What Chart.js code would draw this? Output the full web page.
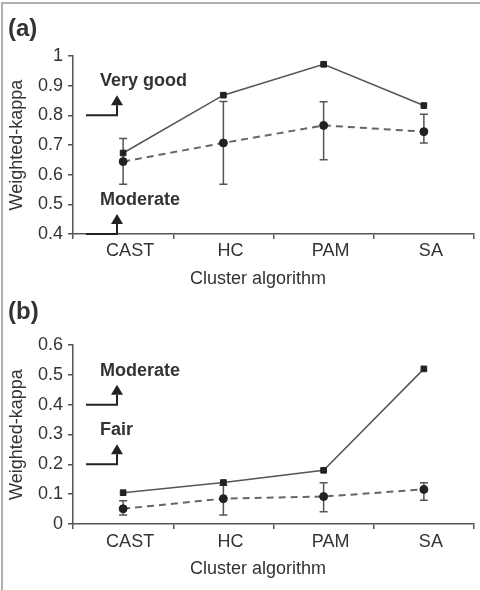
<!DOCTYPE html>
<html>
<head>
<meta charset="utf-8">
<script src="https://cdn.jsdelivr.net/npm/chart.js@4.4.1/dist/chart.umd.min.js"></script>
<style>
  html, body { margin: 0; padding: 0; background: #fff; }
  body { width: 480px; height: 590px; position: relative; overflow: hidden; }
  #marco { position: absolute; left: 1px; top: 2px; right: 0; bottom: 0; border-top: 2px solid #b0b0b0; border-left: 2px solid #b0b0b0; }
  canvas { position: absolute; left: 0; }
  #graficoA { top: 0; }
  #graficoB { top: 295px; }
</style>
</head>
<body>
<div id="marco"></div>
<canvas id="graficoA" width="480" height="295"></canvas>
<canvas id="graficoB" width="480" height="295"></canvas>
<script>
// categorias y valores
const categorias = ['CAST', 'HC', 'PAM', 'SA']

// (a)
const maximoA = [0.673, 0.868, 0.972, 0.833]
const mediaA = [0.644, 0.707, 0.766, 0.745]
const errorBajoA = [0.568, 0.568, 0.650, 0.707]
const errorAltoA = [0.722, 0.847, 0.846, 0.804]
const ejeA = [0.4, 1, 0.1]
const umbralesA = [[0.8, 'Very good'], [0.4, 'Moderate']]

// (b)
const maximoB = [0.105, 0.139, 0.180, 0.520]
const mediaB = [0.051, 0.085, 0.092, 0.116]
const errorBajoB = [0.030, 0.030, 0.041, 0.080]
const errorAltoB = [0.078, 0.130, 0.138, 0.138]
const ejeB = [0, 0.6, 0.1]
const umbralesB = [[0.4, 'Moderate'], [0.2, 'Fair']]

const tituloX = 'Cluster algorithm'
const tituloY = 'Weighted-kappa'

Chart.defaults.font.family = '"Liberation Sans", Arial, sans-serif'
Chart.defaults.font.size = 18
Chart.defaults.color = '#333'

// barras de error (low/high) dibujadas con las escalas del grafico
const barrasError = {
  id: 'barrasError',
  beforeDatasetsDraw(chart, args, opts) {
    const { ctx, scales: { x, y } } = chart
    ctx.save()
    ctx.strokeStyle = '#555'
    ctx.lineWidth = 1.5
    opts.bajo.forEach((v, i) => {
      const px = x.getPixelForValue(i)
      const y1 = y.getPixelForValue(v)
      const y2 = y.getPixelForValue(opts.alto[i])
      ctx.beginPath()
      ctx.moveTo(px, y1); ctx.lineTo(px, y2)
      ctx.moveTo(px - 4, y1); ctx.lineTo(px + 4, y1)
      ctx.moveTo(px - 4, y2); ctx.lineTo(px + 4, y2)
      ctx.stroke()
    })
    ctx.restore()
  }
}

// flechas de umbral, etiqueta del panel y titulo del eje x
const anotaciones = {
  id: 'anotaciones',
  afterDraw(chart, args, opts) {
    const { ctx, chartArea, scales: { y } } = chart
    const x0 = chartArea.left + 13
    const x1 = chartArea.left + 44
    ctx.save()
    ctx.strokeStyle = '#222'
    ctx.lineWidth = 2
    opts.umbrales.forEach(([valor, texto]) => {
      const py = y.getPixelForValue(valor)
      ctx.beginPath()
      ctx.moveTo(x0, py); ctx.lineTo(x1, py); ctx.lineTo(x1, py - 10)
      ctx.stroke()
      ctx.fillStyle = '#222'
      ctx.beginPath()
      ctx.moveTo(x1 - 6, py - 10); ctx.lineTo(x1 + 6, py - 10); ctx.lineTo(x1, py - 20)
      ctx.closePath()
      ctx.fill()
      ctx.fillStyle = '#333'
      ctx.font = 'bold 18px "Liberation Sans", Arial, sans-serif'
      ctx.textBaseline = 'alphabetic'
      ctx.textAlign = 'left'
      ctx.fillText(texto, chartArea.left + 27, py - 29)
    })
    ctx.fillStyle = '#333'
    ctx.font = '18px "Liberation Sans", Arial, sans-serif'
    ctx.textAlign = 'center'
    ctx.textBaseline = 'middle'
    ctx.fillText(tituloX, chartArea.left + 185, chartArea.bottom + 45)
    ctx.font = 'bold 24px "Liberation Sans", Arial, sans-serif'
    ctx.textAlign = 'left'
    ctx.fillText(opts.panel, 8, opts.panelY)
    ctx.restore()
  }
}

const graficoPanel = (idGrafico, panel, maximos, medias, bajo, alto, eje, umbrales, medidas) => {
  const data = {
    labels: categorias,
    datasets: [
      {
        label: 'max',
        data: maximos,
        borderColor: '#555',
        borderWidth: 1.5,
        pointStyle: 'rect',
        pointRadius: 4,
        pointBackgroundColor: '#222',
        pointBorderColor: '#222',
        pointBorderWidth: 1
      },
      {
        label: 'media',
        data: medias,
        borderColor: '#666',
        borderWidth: 2,
        borderDash: [7, 5],
        pointStyle: 'circle',
        pointRadius: 4,
        pointBackgroundColor: '#222',
        pointBorderColor: '#222',
        pointBorderWidth: 1
      }
    ]
  }
  const config = {
    type: 'line',
    data: data,
    plugins: [barrasError, anotaciones],
    options: {
      responsive: false,
      animation: false,
      clip: false,
      layout: { padding: { left: 0, top: medidas.arriba, right: 6, bottom: 0 } },
      plugins: {
        legend: { display: false },
        tooltip: { enabled: false },
        barrasError: { bajo: bajo, alto: alto },
        anotaciones: { umbrales: umbrales, panel: panel, panelY: medidas.panelY }
      },
      scales: {
        x: {
          offset: true,
          afterFit: (scale) => { scale.height = medidas.altoX },
          grid: { offset: true, drawOnChartArea: false, tickLength: 5, color: '#555', lineWidth: 1.5 },
          border: { color: '#555', width: 1.5 },
          ticks: { padding: medidas.padX, labelOffset: 7, color: '#333' }
        },
        y: {
          min: eje[0],
          max: eje[1],
          afterFit: (scale) => { scale.width = 73 },
          grid: { drawOnChartArea: false, tickLength: 5, color: '#555', lineWidth: 1.5 },
          border: { color: '#555', width: 1.5 },
          ticks: {
            stepSize: eje[2],
            padding: 5,
            color: '#333',
            callback: (v) => String(Number(v.toFixed(2)))
          },
          title: { display: true, text: tituloY, color: '#333', padding: { top: 6, bottom: 0 } }
        }
      }
    }
  }
  return new Chart(document.getElementById(idGrafico), config)
}

graficoPanel('graficoA', '(a)', maximoA, mediaA, errorBajoA, errorAltoA, ejeA, umbralesA,
  { arriba: 56, altoX: 61, padX: 1, panelY: 29.5 })
graficoPanel('graficoB', '(b)', maximoB, mediaB, errorBajoB, errorAltoB, ejeB, umbralesB,
  { arriba: 50, altoX: 66, padX: 2, panelY: 17.5 })
</script>
</body>
</html>
